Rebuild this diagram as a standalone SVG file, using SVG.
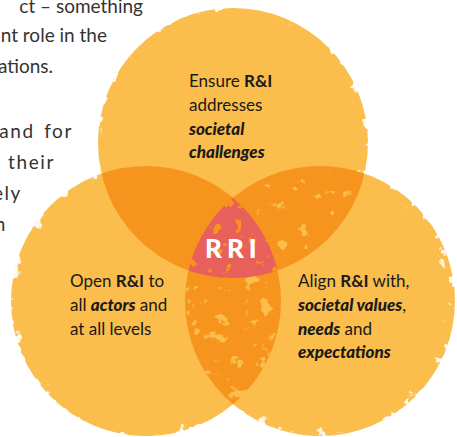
<svg xmlns="http://www.w3.org/2000/svg" width="457" height="437" viewBox="0 0 457 437">
<style>
.t{font-family:Lato,"Noto Sans",sans-serif;font-size:17px;fill:#1a1a1a}
.b{font-weight:700}
.bi{font-weight:900;font-style:italic}
.p{font-family:Lato,"Noto Sans",sans-serif;font-size:19px;fill:#333}
.p2{letter-spacing:1.6px;word-spacing:3px}
.rri{font-family:Lato,"Noto Sans",sans-serif;font-size:26px;font-weight:900;fill:#fff;letter-spacing:5px}
</style>
<defs>
<clipPath id="cT"><circle cx="233" cy="143" r="135"/></clipPath>
<clipPath id="cL"><circle cx="146" cy="301" r="135"/></clipPath>
<clipPath id="cR"><circle cx="320" cy="301" r="135"/></clipPath>
<radialGradient id="edge">
<stop offset="0.72" stop-color="#fff" stop-opacity="0"/>
<stop offset="1" stop-color="#fff" stop-opacity="1"/>
</radialGradient>
<filter id="grunge" x="-5%" y="-5%" width="110%" height="110%" color-interpolation-filters="sRGB">
<feTurbulence type="fractalNoise" baseFrequency="0.085" numOctaves="3" seed="4" result="n"/>
<feColorMatrix in="n" type="matrix" values="0 0 0 0 1  0 0 0 0 1  0 0 0 0 1  1 0 0 0 0" result="na"/>
<feComposite in="na" in2="SourceGraphic" operator="arithmetic" k1="0" k2="16" k3="16" k4="-24" result="sp"/>
<feComposite in="sp" in2="SourceAlpha" operator="in"/>
</filter>
<filter id="fLens" x="0" y="0" width="1" height="1" color-interpolation-filters="sRGB">
<feTurbulence type="fractalNoise" baseFrequency="0.07" numOctaves="3" seed="11"/>
<feColorMatrix type="matrix" values="0 0 0 0 0.984  0 0 0 0 0.741  0 0 0 0 0.294  16 0 0 0 -10.2"/>
<feComposite in2="SourceAlpha" operator="in"/>
</filter>
<filter id="fTR" x="0" y="0" width="1" height="1" color-interpolation-filters="sRGB">
<feTurbulence type="fractalNoise" baseFrequency="0.08" numOctaves="3" seed="21"/>
<feColorMatrix type="matrix" values="0 0 0 0 0.984  0 0 0 0 0.741  0 0 0 0 0.294  18 0 0 0 -12.4"/>
<feComposite in2="SourceAlpha" operator="in"/>
</filter>
<filter id="fCore" x="0" y="0" width="1" height="1" color-interpolation-filters="sRGB">
<feTurbulence type="fractalNoise" baseFrequency="0.09" numOctaves="3" seed="8"/>
<feColorMatrix type="matrix" values="0 0 0 0 0.969  0 0 0 0 0.58  0 0 0 0 0.118  16 0 0 0 -10.2"/>
<feComposite in2="SourceAlpha" operator="in"/>
</filter>
<mask id="mT" maskUnits="userSpaceOnUse" x="0" y="0" width="457" height="437"><rect width="457" height="437" fill="#000"/><circle cx="233" cy="143" r="140" fill="#fff"/><circle cx="146" cy="301" r="135" fill="#000"/><circle cx="320" cy="301" r="135" fill="#000"/></mask>
<mask id="mL" maskUnits="userSpaceOnUse" x="0" y="0" width="457" height="437"><rect width="457" height="437" fill="#000"/><circle cx="146" cy="301" r="140" fill="#fff"/><circle cx="233" cy="143" r="135" fill="#000"/><circle cx="320" cy="301" r="135" fill="#000"/></mask>
<mask id="mR" maskUnits="userSpaceOnUse" x="0" y="0" width="457" height="437"><rect width="457" height="437" fill="#000"/><circle cx="320" cy="301" r="140" fill="#fff"/><circle cx="233" cy="143" r="135" fill="#000"/><circle cx="146" cy="301" r="135" fill="#000"/></mask>
</defs>
<rect width="457" height="437" fill="#fff"/>
<g id="intro-text" class="p">
<text x="143" y="13" text-anchor="end">ct – something</text>
<text x="107" y="42" text-anchor="end">nt role in the</text>
<text x="53" y="73" text-anchor="end">ations.</text>
<text class="p2" x="73" y="138" text-anchor="end">and for</text>
<text class="p2" x="55" y="169" text-anchor="end">their</text>
<text class="p2" x="22" y="200" text-anchor="end">ely</text>
<text class="p2" x="7" y="231" text-anchor="end">n</text>
</g>
<g id="venn">
<g id="circle-top"><circle cx="233" cy="143" r="135" fill="#FBBD4B"/></g>
<g id="circle-left"><circle cx="146" cy="301" r="135" fill="#FBBD4B"/></g>
<g id="circle-right"><circle cx="320" cy="301" r="135" fill="#FBBD4B"/></g>
<g id="overlaps">
<g clip-path="url(#cT)"><circle cx="146" cy="301" r="135" fill="#F7941E"/></g>
<g clip-path="url(#cT)"><circle cx="320" cy="301" r="135" fill="#F7941E"/></g>
<g clip-path="url(#cT)"><circle cx="320" cy="301" r="135" fill="#000" filter="url(#fTR)"/></g>
<g clip-path="url(#cL)"><circle cx="320" cy="301" r="135" fill="#F7941E"/></g>
<g clip-path="url(#cL)"><circle cx="320" cy="301" r="135" fill="#000" filter="url(#fLens)"/></g>
</g>
<g id="grunge-edges">
<g mask="url(#mT)"><circle cx="233" cy="143" r="137" fill="url(#edge)" filter="url(#grunge)"/></g>
<g mask="url(#mL)"><circle cx="146" cy="301" r="137" fill="url(#edge)" filter="url(#grunge)"/></g>
<g mask="url(#mR)"><circle cx="320" cy="301" r="137" fill="url(#edge)" filter="url(#grunge)"/></g>
</g>
</g>
<g id="core">
<g clip-path="url(#cL)"><g clip-path="url(#cR)"><circle cx="233" cy="143" r="135" fill="#E8605B"/><circle cx="233" cy="143" r="135" fill="#000" filter="url(#fCore)"/></g></g>
<text class="rri" x="205" y="258">RRI</text>
</g>
<g id="node-top" class="t">
<text x="189" y="87">Ensure <tspan class="b">R&amp;I</tspan></text>
<text x="189" y="111">addresses</text>
<text x="189" y="135" class="bi">societal</text>
<text x="189" y="158" class="bi">challenges</text>
</g>
<g id="node-left" class="t">
<text x="70" y="287">Open <tspan class="b">R&amp;I</tspan> to</text>
<text x="70" y="311">all <tspan class="bi">actors</tspan> and</text>
<text x="70" y="335">at all levels</text>
</g>
<g id="node-right" class="t">
<text x="298" y="287">Align <tspan class="b">R&amp;I</tspan> with,</text>
<text x="298" y="311"><tspan class="bi">societal values</tspan>,</text>
<text x="298" y="335"><tspan class="bi">needs</tspan> and</text>
<text x="298" y="358" class="bi">expectations</text>
</g>
<g id="connectors"/>
</svg>
